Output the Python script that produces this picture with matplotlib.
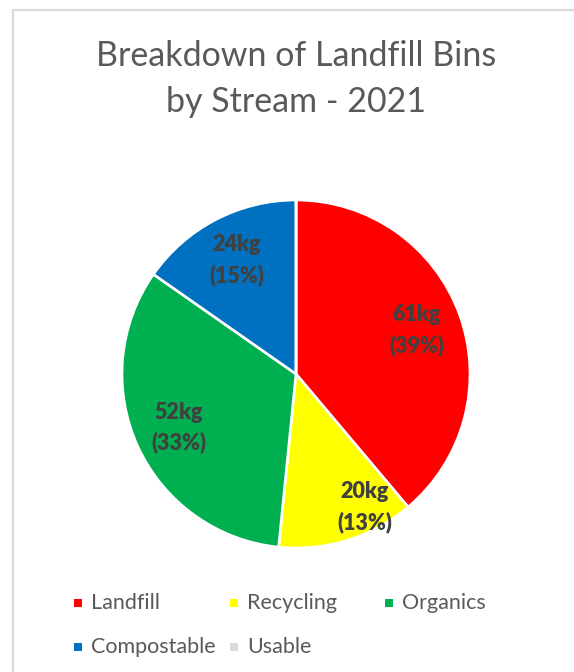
import matplotlib
matplotlib.use("Agg")
import matplotlib.pyplot as plt
from matplotlib.patches import Rectangle
import numpy as np

# Waste collected per stream (kg)
streams = ["Landfill", "Recycling", "Organics", "Compostable", "Usable"]
weights = [61, 20, 52, 24, 0]
colors = ["#FF0000", "#FFFF00", "#00B050", "#0070C0", "#D9D9D9"]
title = "Breakdown of Landfill Bins\nby Stream - 2021"

W, H = 574, 672
DPI = 100
FONT = "Lato"

fig = plt.figure(figsize=(W / DPI, H / DPI), dpi=DPI)
fig.patch.set_facecolor("white")

# Chart-area frame (runs off the right and bottom edges)
frame = Rectangle((12.5 / W, -0.05), 1.2, (H - 9.5) / H + 0.05,
                  transform=fig.transFigure, fill=False,
                  edgecolor="#D9D9D9", linewidth=1.6)
fig.add_artist(frame)

fig.text(296 / W, 1 - 79 / H, title, ha="center", va="center",
         fontsize=24.5, color="#595959", family=FONT, linespacing=1.52)

# Pie
cx, cy, r = 296, 374, 174
ax = fig.add_axes([(cx - r) / W, (H - cy - r) / H, 2 * r / W, 2 * r / H])
wedges, _ = ax.pie(weights, colors=colors, startangle=90, counterclock=False,
                   radius=1.0,
                   wedgeprops=dict(edgecolor="white", linewidth=1.9))
ax.set_xlim(-1, 1)
ax.set_ylim(-1, 1)
ax.set_aspect("equal")
ax.axis("off")

total = sum(weights)
label_dist = [0.74, 0.86, 0.74, 0.74, 0.74]
label_shift = [0, 10, 0, 0, 0]  # degrees, nudge toward the open side
for i, (w, v) in enumerate(zip(wedges, weights)):
    if v == 0:
        continue
    mid = np.deg2rad((w.theta1 + w.theta2) / 2 + label_shift[i])
    x, y = label_dist[i] * np.cos(mid), label_dist[i] * np.sin(mid)
    pct = round(100 * v / total)
    ax.text(x, y, f"{v}kg\n({pct}%)", ha="center", va="center",
            fontsize=15.5, fontweight="heavy", color="#404040",
            family=FONT, linespacing=1.5)

# Legend, laid out row by row in three columns
col_x = [78, 234, 389]
row_y = [603, 647]
for i, (name, c) in enumerate(zip(streams, colors)):
    row, col = divmod(i, 3)
    mx, my = col_x[col], row_y[row]
    fig.add_artist(Rectangle(((mx - 4) / W, 1 - (my + 4) / H), 8 / W, 8 / H,
                             transform=fig.transFigure, facecolor=c,
                             edgecolor="none"))
    fig.text((mx + 13) / W, 1 - my / H, name, ha="left", va="center",
             fontsize=15.5, color="#595959", family=FONT)

fig.savefig("out.png", dpi=DPI, facecolor="white")
